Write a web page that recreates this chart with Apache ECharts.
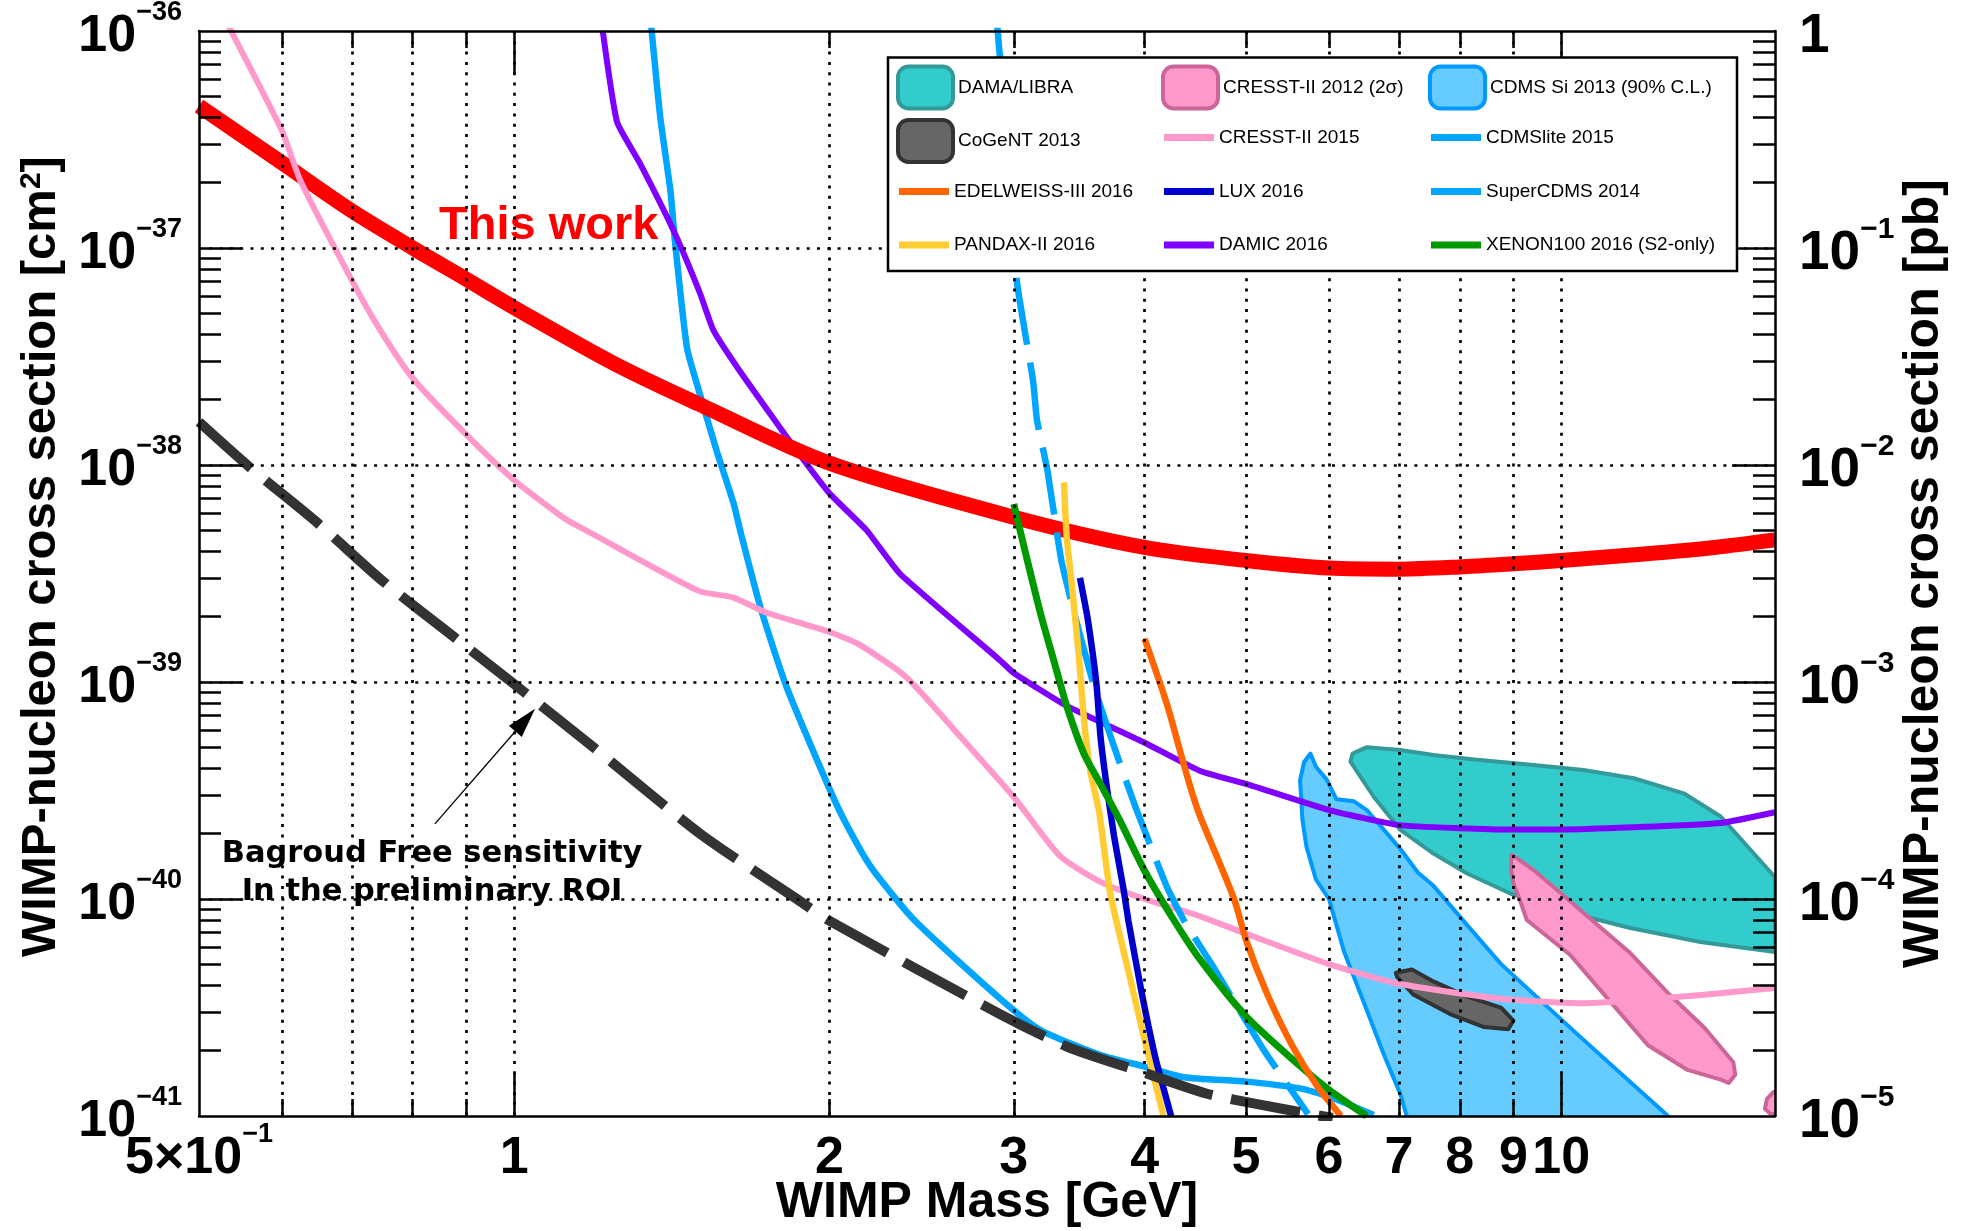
<!DOCTYPE html>
<html>
<head>
<meta charset="utf-8">
<script src="https://cdn.jsdelivr.net/npm/echarts@6/dist/echarts.min.js"></script>
<style>
  html, body { margin: 0; padding: 0; background: #ffffff; }
  #chart { width: 1965px; height: 1231px; }
</style>
</head>
<body>
<div id="chart"></div>
<script>
// ---------------- limit curves: WIMP mass [GeV] vs cross section [cm^2] ----------------
const thisWorkMass = [0.5, 0.6, 0.7, 0.8, 0.9, 1.0, 1.25, 1.5, 2, 3, 4, 5, 6, 7, 8, 9, 10, 12, 14, 16];
const thisWorkXs = [4.51e-37, 2.47e-37, 1.48e-37, 1.00e-37, 7.18e-38, 5.31e-38, 2.91e-38, 1.91e-38, 1.02e-38, 5.75e-39,
  4.17e-39, 3.63e-39, 3.35e-39, 3.31e-39, 3.39e-39, 3.51e-39, 3.63e-39, 3.89e-39, 4.17e-39, 4.52e-39];

const bgFreeMass = [0.5, 0.559, 0.65, 0.747, 0.875, 1.0, 1.19, 1.505, 1.862, 2.0, 2.91, 3.37, 4.0, 4.58, 5.2, 5.9, 6.05];
const bgFreeXs = [1.58e-38, 9.77e-39, 5.37e-39, 2.95e-39, 1.62e-39, 9.77e-40, 5.01e-40, 2.0e-40, 1.0e-40, 7.94e-41,
  2.95e-41, 2.09e-41, 1.58e-41, 1.27e-41, 1.12e-41, 1.0e-41, 9.8e-42];

const cresst15Mass = [0.53, 0.6, 0.625, 0.7, 0.745, 0.8, 0.9, 1.0, 1.12, 1.17, 1.5, 1.62, 1.74, 2.0, 2.14, 2.37, 2.62,
  3.0, 3.32, 3.63, 4.0, 4.52, 5, 6, 7, 8.76, 10.4, 16];
const cresst15Xs = [1.12e-36, 3.47e-37, 2.04e-37, 7.08e-38, 4.17e-38, 2.51e-38, 1.38e-38, 8.51e-39, 5.62e-39, 5.01e-39,
  2.63e-39, 2.45e-39, 2.09e-39, 1.70e-39, 1.48e-39, 1.05e-39, 6.17e-40, 2.95e-40, 1.58e-40, 1.20e-40,
  1.0e-40, 8.32e-41, 6.92e-41, 5.01e-41, 4.07e-41, 3.47e-41, 3.31e-41, 3.89e-41];

const damicMass = [1.215, 1.254, 1.319, 1.42, 1.505, 1.55, 1.644, 1.82, 2.0, 2.17, 2.335, 2.91, 3.0, 3.37, 4.0, 4.52,
  5, 6, 7, 8, 9, 10, 11.7, 14.2, 16];
const damicXs = [1.0e-36, 3.80e-37, 2.45e-37, 1.20e-37, 6.17e-38, 4.17e-38, 2.69e-38, 1.35e-38, 7.41e-39, 5.01e-39,
  3.16e-39, 1.26e-39, 1.10e-39, 7.76e-40, 5.25e-40, 3.89e-40, 3.39e-40, 2.57e-40, 2.19e-40, 2.12e-40,
  2.09e-40, 2.09e-40, 2.14e-40, 2.24e-40, 2.51e-40];

const cdmsliteMass = [1.35, 1.379, 1.41, 1.425, 1.462, 1.495, 1.561, 1.62, 1.644, 1.718, 1.82, 1.99, 2.066, 2.19, 2.41,
  2.91, 3.18, 3.63, 4.0, 4.36, 5, 5.63, 6.0, 6.62];
const cdmsliteXs = [1.12e-36, 3.98e-37, 1.83e-37, 1.04e-37, 3.48e-38, 2.35e-38, 1.16e-38, 6.65e-39, 4.97e-39, 2.22e-39,
  9.51e-40, 3.41e-40, 2.31e-40, 1.41e-40, 8.0e-41, 3.48e-41, 2.49e-41, 1.91e-41, 1.69e-41, 1.51e-41,
  1.44e-41, 1.34e-41, 1.23e-41, 1.01e-41];

const superCdmsMass = [2.89, 2.96, 3.02, 3.13, 3.157, 3.23, 3.33, 3.42, 3.58, 3.74, 3.92, 4.2, 4.36, 4.65, 5.2, 5.73];
const superCdmsXs = [1.12e-36, 2.82e-37, 7.05e-38, 2.44e-38, 1.61e-38, 9.48e-39, 3.65e-39, 2.15e-39, 9.51e-40, 5.04e-40,
  2.66e-40, 1.14e-40, 8.0e-41, 4.88e-41, 2.01e-41, 1.02e-41];

const pandaxMass = [3.35, 3.37, 3.41, 3.46, 3.50, 3.55, 3.62, 3.71, 3.85, 4.0, 4.17];
const pandaxXs = [8.32e-39, 4.68e-39, 2.75e-39, 1.35e-39, 6.76e-40, 3.89e-40, 2.51e-40, 1.05e-40, 4.90e-41, 2.24e-41, 1.0e-41];

const luxMass = [3.47, 3.53, 3.60, 3.63, 3.68, 3.74, 3.82, 3.86, 3.97, 4.10, 4.24];
const luxXs = [3.02e-39, 1.95e-39, 9.55e-40, 5.62e-40, 3.31e-40, 1.95e-40, 1.10e-40, 7.94e-41, 3.80e-41, 1.82e-41, 1.0e-41];

const xenonMass = [3.0, 3.08, 3.18, 3.28, 3.37, 3.5, 3.63, 3.79, 4.0, 4.27, 4.52, 5, 5.63, 6, 6.52];
const xenonXs = [6.61e-39, 3.89e-39, 2.09e-39, 1.23e-39, 7.76e-40, 4.68e-40, 3.39e-40, 2.29e-40, 1.35e-40, 7.94e-41,
  5.25e-41, 2.88e-41, 1.70e-41, 1.32e-41, 1.0e-41];

const edelweissMass = [4.0, 4.2, 4.36, 4.46, 4.52, 4.87, 5.0, 5.24, 5.54, 5.86, 6.16];
const edelweissXs = [1.58e-39, 7.94e-40, 4.17e-40, 2.88e-40, 2.40e-40, 1.0e-40, 6.46e-41, 3.63e-41, 2.09e-41, 1.35e-41, 1.0e-41];

// ---------------- allowed regions: closed contours (mass, cross section) ----------------
const damaMass = [6.29, 6.32, 6.52, 7.02, 7.55, 8.31, 9.41, 10.5, 11.73, 13.09, 14.2, 16.0, 16.0, 13.58, 11.64, 10.13,
  8.94, 8.13, 7.55, 7.02, 6.62];
const damaXs = [4.30e-40, 4.68e-40, 5.01e-40, 4.86e-40, 4.61e-40, 4.38e-40, 4.15e-40, 3.93e-40, 3.60e-40, 3.07e-40,
  2.40e-40, 1.26e-40, 5.70e-41, 6.34e-41, 7.35e-41, 8.71e-41, 1.06e-40, 1.31e-40, 1.62e-40, 2.08e-40, 2.96e-40];

const cdmsSiMass = [5.76, 5.83, 5.97, 6.1, 6.34, 6.52, 6.82, 7.02, 7.3, 7.55, 8.13, 8.76, 10.4, 13.2, 7.2, 7.02, 6.76,
  6.47, 6.2, 6.0, 5.83, 5.71, 5.66, 5.63, 5.68];
const cdmsSiXs = [4.68e-40, 4.07e-40, 3.55e-40, 2.88e-40, 2.82e-40, 2.57e-40, 2.0e-40, 1.70e-40, 1.32e-40, 1.15e-40,
  7.59e-41, 5.01e-41, 2.34e-41, 8.3e-42, 8.3e-42, 1.26e-41, 1.95e-41, 3.39e-41, 5.75e-41, 1.0e-40, 1.23e-40,
  1.74e-40, 2.31e-40, 3.53e-40, 4.27e-40];

const cresst12Mass = [8.97, 9.41, 10.0, 10.6, 11.61, 12.7, 13.7, 14.6, 14.66, 14.45, 14.2, 13.2, 12.1, 11.1, 10.2,
  9.27, 9.13, 9.0, 8.95];
const cresst12Xs = [1.60e-40, 1.36e-40, 1.06e-40, 8.30e-41, 5.70e-41, 3.61e-41, 2.55e-41, 1.77e-41, 1.55e-41, 1.42e-41,
  1.47e-41, 1.63e-41, 2.12e-41, 3.43e-41, 5.52e-41, 8.0e-41, 9.89e-41, 1.18e-40, 1.41e-40];
const cresst12HighMass = [15.65, 15.72, 15.95, 16.6, 16.6, 15.85];
const cresst12HighXs = [1.08e-41, 1.2e-41, 1.29e-41, 1.25e-41, 1.03e-41, 1.02e-41];

const cogentMass = [6.95, 7.2, 7.55, 8.13, 8.76, 9.0, 8.9, 8.44, 7.83, 7.22, 6.97];
const cogentXs = [4.57e-41, 4.73e-41, 4.17e-41, 3.55e-41, 3.16e-41, 2.75e-41, 2.51e-41, 2.57e-41, 2.95e-41, 3.63e-41, 4.37e-41];

// arrow of the sensitivity annotation: tail and head (mass, cross section)
const arrowMass = [0.84, 1.0245];
const arrowXs = [2.22e-40, 6.68e-40];

// ---------------- axis ticks and labels ----------------
// 1 pb = 1e-36 cm^2; both vertical axes share the pb scale, the left one is labelled in cm^2
const CM2_PER_PB = 1e-36;
const massRange = [0.5, 16];
const massGridTicks = [0.6, 0.7, 0.8, 0.9, 1, 2, 3, 4, 5, 6, 7, 8, 9, 10];
const massDecadeTicks = [1, 10];
const massLabels = [0.5, 1, 2, 3, 4, 5, 6, 7, 8, 9, 10];
const pbRange = [1e-5, 1];
const pbDecades = [1e-5, 1e-4, 1e-3, 1e-2, 1e-1, 1];
const pbInnerDecades = [1e-4, 1e-3, 1e-2, 1e-1];
const mantissas = [2, 3, 4, 5, 6, 7, 8, 9];

const legendColumns = [
  ['DAMA/LIBRA', 'CoGeNT 2013', 'EDELWEISS-III 2016', 'PANDAX-II 2016'],
  ['CRESST-II 2012 (2\u03c3)', 'CRESST-II 2015', 'LUX 2016', 'DAMIC 2016'],
  ['CDMS Si 2013 (90% C.L.)', 'CDMSlite 2015', 'SuperCDMS 2014', 'XENON100 2016 (S2-only)']
];

// ---------------- helpers ----------------
function minorTicks(decades) {
  const out = [];
  decades.slice(0, -1).forEach(d => mantissas.forEach(k => out.push(k * d)));
  return out;
}
const toPb = xs => xs.map(v => v / CM2_PER_PB);
const pairs = (xs, ys) => xs.map((x, i) => [x, ys[i]]);
const MINUS = '\u2212';

function lineSeries(name, mass, xs, color, width, dash, smooth) {
  return {
    type: 'line', name, data: pairs(mass, toPb(xs)),
    xAxisIndex: 0, yAxisIndex: 0,
    showSymbol: false, symbol: 'none', silent: true, animation: false, clip: true,
    z: 3, smooth: smooth || false,
    lineStyle: { color, width, type: dash || 'solid', cap: 'butt', join: 'round' },
    itemStyle: { color }
  };
}

function regionSeries(name, mass, xs, fill, stroke) {
  const ys = toPb(xs);
  return {
    type: 'custom', name, coordinateSystem: 'cartesian2d',
    xAxisIndex: 0, yAxisIndex: 0,
    data: pairs(mass, ys), encode: { x: 0, y: 1 },
    silent: true, animation: false, z: 1,
    itemStyle: { color: fill, borderColor: stroke },
    renderItem(params, api) {
      if (params.dataIndex !== 0) return null;
      const pts = mass.map((m, i) => api.coord([m, ys[i]]));
      const cs = params.coordSys;
      return {
        type: 'polygon',
        shape: { points: pts },
        style: { fill, stroke, lineWidth: 4, lineJoin: 'round' },
        clipPath: { type: 'rect', shape: { x: cs.x, y: cs.y, width: cs.width, height: cs.height } }
      };
    }
  };
}

const regionStyle = {
  'DAMA/LIBRA': { fill: '#33cccc', stroke: '#339999' },
  'CoGeNT 2013': { fill: '#666666', stroke: '#333333' },
  'CRESST-II 2012 (2\u03c3)': { fill: '#ff99cc', stroke: '#cc6699' },
  'CDMS Si 2013 (90% C.L.)': { fill: '#66ccff', stroke: '#0099ff' }
};
const lineColor = {
  'EDELWEISS-III 2016': '#ff6600',
  'PANDAX-II 2016': '#ffcc33',
  'CRESST-II 2015': '#ff99cc',
  'LUX 2016': '#0000cc',
  'DAMIC 2016': '#7f00ff',
  'CDMSlite 2015': '#00a5ff',
  'SuperCDMS 2014': '#00a5ff',
  'XENON100 2016 (S2-only)': '#009900'
};

const series = [
  regionSeries('CDMS Si 2013 (90% C.L.)', cdmsSiMass, cdmsSiXs, '#66ccff', '#0099ff'),
  regionSeries('DAMA/LIBRA', damaMass, damaXs, '#33cccc', '#339999'),
  regionSeries('CRESST-II 2012 (2\u03c3)', cresst12Mass, cresst12Xs, '#ff99cc', '#cc6699'),
  regionSeries('CRESST-II 2012 (2\u03c3)', cresst12HighMass, cresst12HighXs, '#ff99cc', '#cc6699'),
  regionSeries('CoGeNT 2013', cogentMass, cogentXs, '#666666', '#333333'),
  lineSeries('CDMSlite 2015', cdmsliteMass, cdmsliteXs, '#00a5ff', 6.5, null, 0.2),
  lineSeries('DAMIC 2016', damicMass, damicXs, '#7f00ff', 6, null, 0.15),
  lineSeries('This work', thisWorkMass, thisWorkXs, '#ff0000', 15, null, 0.3),
  lineSeries('CRESST-II 2015', cresst15Mass, cresst15Xs, '#ff99cc', 6, null, 0.2),
  lineSeries('SuperCDMS 2014', superCdmsMass, superCdmsXs, '#00a5ff', 6.5, [68, 18], 0.15),
  lineSeries('PANDAX-II 2016', pandaxMass, pandaxXs, '#ffcc33', 6.5, null, 0.15),
  lineSeries('LUX 2016', luxMass, luxXs, '#0000cc', 6.5, null, 0.15),
  lineSeries('XENON100 2016 (S2-only)', xenonMass, xenonXs, '#009900', 7, null, 0.25),
  lineSeries('EDELWEISS-III 2016', edelweissMass, edelweissXs, '#ff6600', 6.5, null, 0.25)
];

const bgFree = lineSeries('Background free sensitivity', bgFreeMass, bgFreeXs, '#333333', 10, [70, 19], 0.25);
bgFree.markLine = {
  silent: true, animation: false,
  symbol: ['none', 'triangle'], symbolSize: [17, 30],
  label: { show: false },
  lineStyle: { color: '#000000', width: 1.3, type: 'solid' },
  itemStyle: { color: '#000000' },
  data: [[{ coord: [arrowMass[0], arrowXs[0] / CM2_PER_PB] }, { coord: [arrowMass[1], arrowXs[1] / CM2_PER_PB] }]]
};
series.push(bgFree);

// ---------------- axes ----------------
const AXC = '#000000';
const dotted = { show: true, lineStyle: { color: '#000000', width: 2.7, type: [3, 7.3] } };
const labelFont = 'Liberation Sans';
const leftRich = {
  b: { fontFamily: labelFont, fontWeight: 'bold', fontSize: 52, lineHeight: 64, verticalAlign: 'bottom', color: '#000' },
  s: { fontFamily: labelFont, fontWeight: 'bold', fontSize: 27, lineHeight: 27, verticalAlign: 'top', color: '#000' }
};
const rightRich = {
  b: { fontFamily: labelFont, fontWeight: 'bold', fontSize: 55, lineHeight: 66, verticalAlign: 'bottom', color: '#000' },
  s: { fontFamily: labelFont, fontWeight: 'bold', fontSize: 30, lineHeight: 30, verticalAlign: 'top', color: '#000' }
};
const powerLabel = e => e === 0 ? '{b|1}' : '{b|10}{s|' + MINUS + (-e) + '}';
const pbLabel = v => powerLabel(Math.round(Math.log10(v)));
const cm2Label = v => powerLabel(Math.round(Math.log10(v * CM2_PER_PB)));
const massLabel = v => v < 0.95 ? '{b|5\u00d710}{s|' + MINUS + '1}' : '{b|' + Math.round(v) + '}';

function logAxis(extra) {
  return Object.assign({
    type: 'log', logBase: 10, z: 10,
    axisLine: { show: false, onZero: false },
    axisTick: { show: false },
    axisLabel: { show: false },
    splitLine: { show: false },
    minorTick: { show: false },
    minorSplitLine: { show: false },
    nameMoveOverlap: false
  }, extra);
}

const xAxis = [
  logAxis({
    min: massRange[0], max: massRange[1], position: 'bottom',
    name: 'WIMP Mass [GeV]', nameLocation: 'middle', nameGap: 62,
    nameTextStyle: { fontFamily: labelFont, fontWeight: 'bold', fontSize: 50, color: '#000' },
    axisLine: { show: true, onZero: false, lineStyle: { color: AXC, width: 2.5 } },
    axisTick: { show: true, inside: true, length: 17, customValues: massGridTicks, lineStyle: { color: AXC, width: 2.5 } },
    axisLabel: { show: true, customValues: massLabels, margin: 5, formatter: massLabel, rich: leftRich,
      hideOverlap: false, showMinLabel: true, showMaxLabel: true },
    splitLine: dotted
  }),
  logAxis({
    min: massRange[0], max: massRange[1], position: 'bottom',
    axisTick: { show: true, inside: true, length: 43, customValues: massDecadeTicks, lineStyle: { color: AXC, width: 2.5 } }
  }),
  logAxis({
    min: massRange[0], max: massRange[1], position: 'top',
    axisLine: { show: true, onZero: false, lineStyle: { color: AXC, width: 2.5 } },
    axisTick: { show: true, inside: true, length: 17, customValues: massGridTicks, lineStyle: { color: AXC, width: 2.5 } }
  }),
  logAxis({
    min: massRange[0], max: massRange[1], position: 'top',
    axisTick: { show: true, inside: true, length: 43, customValues: massDecadeTicks, lineStyle: { color: AXC, width: 2.5 } }
  })
];

const yAxis = [
  logAxis({
    min: pbRange[0], max: pbRange[1], position: 'left',
    name: 'WIMP-nucleon cross section [cm{sup|2}]', nameLocation: 'middle', nameRotate: 90, nameGap: 133,
    nameTextStyle: {
      fontFamily: labelFont, fontWeight: 'bold', fontSize: 49, color: '#000', padding: [0, 0, 0, 34],
      rich: { sup: { fontFamily: labelFont, fontWeight: 'bold', fontSize: 30, verticalAlign: 'top', color: '#000' } }
    },
    axisLine: { show: true, onZero: false, lineStyle: { color: AXC, width: 2.5 } },
    axisTick: { show: true, inside: true, length: 22, customValues: minorTicks(pbDecades), lineStyle: { color: AXC, width: 2.5 } },
    axisLabel: { show: true, customValues: pbDecades, margin: 17, formatter: cm2Label, rich: leftRich,
      hideOverlap: false, showMinLabel: true, showMaxLabel: true }
  }),
  logAxis({
    min: pbRange[0], max: pbRange[1], position: 'left',
    axisTick: { show: true, inside: true, length: 43, customValues: pbInnerDecades, lineStyle: { color: AXC, width: 2.5 } },
    splitLine: dotted
  }),
  logAxis({
    min: pbRange[0], max: pbRange[1], position: 'right',
    name: 'WIMP-nucleon cross section [pb]', nameLocation: 'middle', nameRotate: 90, nameGap: 124,
    nameTextStyle: { fontFamily: labelFont, fontWeight: 'bold', fontSize: 50, color: '#000' },
    axisLine: { show: true, onZero: false, lineStyle: { color: AXC, width: 2.5 } },
    axisTick: { show: true, inside: true, length: 22, customValues: minorTicks(pbDecades), lineStyle: { color: AXC, width: 2.5 } },
    axisLabel: { show: true, customValues: pbDecades, margin: 24, formatter: pbLabel, rich: rightRich,
      hideOverlap: false, showMinLabel: true, showMaxLabel: true }
  }),
  logAxis({
    min: pbRange[0], max: pbRange[1], position: 'right',
    axisTick: { show: true, inside: true, length: 43, customValues: pbInnerDecades, lineStyle: { color: AXC, width: 2.5 } }
  })
];

// ---------------- legend: one block per entry, 3 columns x 4 rows ----------------
const legendColLeft = [896, 1161, 1428];
const legendRowMid = [85.5, 139, 193, 246.5];
const legends = [];
legendColumns.forEach((col, c) => col.forEach((name, r) => {
  const area = regionStyle[name];
  legends.push({
    show: true, selectedMode: false, z: 30, padding: 0, orient: 'horizontal',
    left: legendColLeft[c] + (area ? 0 : 3),
    top: legendRowMid[r] - (area ? 21 : 11),
    itemWidth: area ? 55 : 50, itemHeight: area ? 42 : 7,
    textStyle: { fontFamily: labelFont, fontSize: 19, color: '#000' },
    data: [area
      ? { name, icon: 'roundRect', itemStyle: { color: area.fill, borderColor: area.stroke, borderWidth: 4 } }
      : { name, icon: 'rect', itemStyle: { color: lineColor[name], borderWidth: 0 } }]
  });
}));

const chart = echarts.init(document.getElementById('chart'), null, { renderer: 'canvas' });
chart.setOption({
  backgroundColor: '#ffffff',
  animation: false,
  grid: { left: 199, right: 190, top: 31, bottom: 115, containLabel: false, outerBoundsMode: 'none' },
  xAxis, yAxis, legend: legends, series,
  graphic: [
    { type: 'rect', z: 25, shape: { x: 888, y: 57.5, width: 849, height: 213.5 },
      style: { fill: '#ffffff', stroke: '#000000', lineWidth: 2.5 } },
    { type: 'text', z: 5, x: 439, y: 226,
      style: { text: 'This work', fill: '#ff0000', font: 'bold 47px "Liberation Sans"',
        align: 'left', textAlign: 'left', verticalAlign: 'middle', textVerticalAlign: 'middle' } },
    { type: 'text', z: 5, x: 432, y: 873,
      style: { text: 'Bagroud Free sensitivity\nIn the preliminary ROI', fill: '#000000',
        font: 'bold 30.5px "DejaVu Sans"', lineHeight: 38,
        align: 'center', textAlign: 'center', verticalAlign: 'middle', textVerticalAlign: 'middle' } }
  ]
});
</script>
</body>
</html>
